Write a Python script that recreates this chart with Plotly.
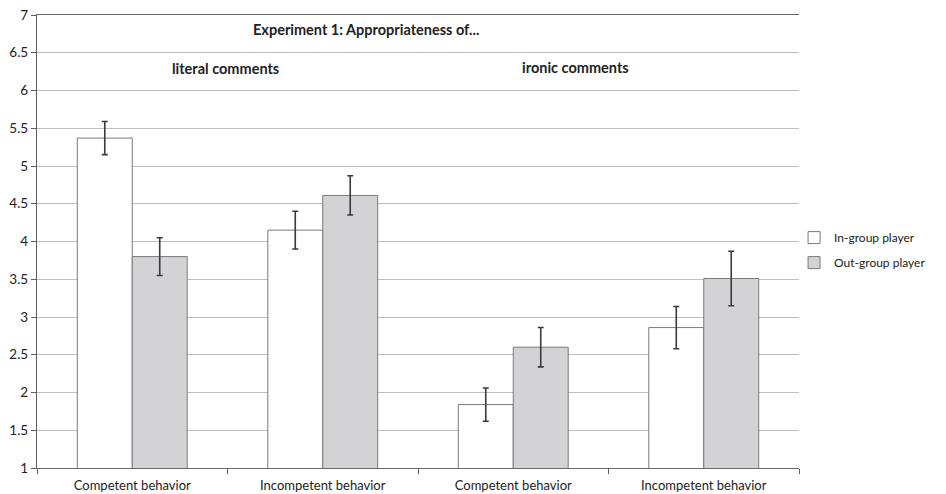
import plotly.graph_objects as go

categories = ["Competent behavior", "Incompetent behavior", "Competent behavior ", "Incompetent behavior "]
category_labels = ["Competent behavior", "Incompetent behavior", "Competent behavior", "Incompetent behavior"]
ingroup_values = [5.37, 4.15, 1.84, 2.86]
ingroup_errors = [0.22, 0.25, 0.22, 0.28]
outgroup_values = [3.80, 4.61, 2.60, 3.51]
outgroup_errors = [0.25, 0.26, 0.26, 0.36]
y_ticks = [1, 1.5, 2, 2.5, 3, 3.5, 4, 4.5, 5, 5.5, 6, 6.5, 7]
y_tick_labels = ["1", "1.5", "2", "2.5", "3", "3.5", "4", "4.5", "5", "5.5", "6", "6.5", "7"]

FONT = "Lato, Open Sans, sans-serif"
TXT = "#222222"

fig = go.Figure()
fig.add_trace(go.Bar(
    x=categories, y=ingroup_values, name="In-group player",
    marker=dict(color="#ffffff", line=dict(color="#7a7a7a", width=1)),
    error_y=dict(type="data", array=ingroup_errors, color="#3a3a3a", thickness=1.6, width=3),
    legendgroup="a",
))
fig.add_trace(go.Bar(
    x=categories, y=outgroup_values, name="Out-group player",
    marker=dict(color="#d3d3d5", line=dict(color="#7a7a7a", width=1)),
    error_y=dict(type="data", array=outgroup_errors, color="#3a3a3a", thickness=1.6, width=3),
    legendgroup="b",
))

annotations = [
    dict(text="<b>Experiment 1: Appropriateness of...</b>", x=0.4316, y=0.9669),
    dict(text="<b>literal comments</b>", x=0.2477, y=0.883),
    dict(text="<b>ironic comments</b>", x=0.7065, y=0.885),
]
for a in annotations:
    a.update(xref="paper", yref="paper", showarrow=False, xanchor="center", yanchor="middle",
             font=dict(family=FONT, size=14.5, color=TXT))

fig.update_layout(
    width=930, height=486,
    margin=dict(l=29, r=126, t=7, b=26),
    paper_bgcolor="white", plot_bgcolor="white",
    barmode="group", bargap=0.423, bargroupgap=0,
    font=dict(family=FONT, size=13, color=TXT),
    annotations=annotations,
    showlegend=True,
    legend=dict(x=0.9935, xanchor="left", y=0.481, yanchor="middle",
                font=dict(family=FONT, size=12, color=TXT),
                traceorder="grouped", tracegroupgap=6, bgcolor="rgba(0,0,0,0)"),
    xaxis=dict(
        type="category", tickmode="array", tickvals=categories, ticktext=category_labels,
        showline=True, mirror=True, linecolor="#6a6a6a", linewidth=1.2,
        ticks="outside", tickson="boundaries", ticklen=5, tickcolor="#5e5e5e",
        showgrid=False, tickfont=dict(family=FONT, size=13, color=TXT), automargin=False,
        ticklabelstandoff=5,
    ),
    yaxis=dict(
        range=[1, 7], tickmode="array", tickvals=y_ticks, ticktext=y_tick_labels,
        showline=True, linecolor="#5e5e5e", linewidth=1.2,
        ticks="outside", ticklen=5, tickcolor="#5e5e5e",
        showgrid=True, gridcolor="#bdbdbd", gridwidth=1.2, zeroline=False,
        tickfont=dict(family=FONT, size=13.5, color=TXT), automargin=False,
        ticklabeloverflow="allow",
    ),
)

fig.write_html("out.html")
